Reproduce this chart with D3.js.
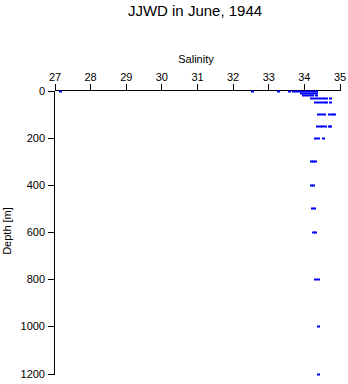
<!DOCTYPE html>
<html><head><meta charset="utf-8">
<script src="https://cdn.jsdelivr.net/npm/d3@7"></script>
<style>
body{margin:0;background:#fff;}
text{font-family:"Liberation Sans",Arial,sans-serif;fill:#000;}
</style></head>
<body><svg id="c" width="348" height="384"></svg>
<script>
const depths = [0,0,0,0,0,0,0,0,0,0,0,0,0,
  10,10,10,10,10,10,
  20,20,20,20,20,
  30,30,30,30,30,30,30,
  50,50,50,50,50,50,
  100,100,100,100,100,100,
  150,150,150,150,150,150,
  200,200,200,
  300,300,300,
  400,400,
  500,500,
  600,600,
  800,800,
  1000,
  1200];
const salinity = [27.15,32.55,33.28,33.59,33.70,33.78,33.87,33.95,34.04,34.12,34.21,34.29,34.33,
  33.92,34.01,34.09,34.18,34.26,34.35,
  33.98,34.06,34.15,34.23,34.35,
  34.21,34.29,34.37,34.46,34.54,34.63,34.74,
  34.32,34.40,34.49,34.57,34.63,34.74,
  34.40,34.49,34.57,34.71,34.80,34.85,
  34.37,34.46,34.51,34.60,34.71,34.74,
  34.32,34.40,34.54,
  34.21,34.26,34.32,
  34.21,34.26,
  34.23,34.29,
  34.26,34.32,
  34.32,34.40,
  34.40,
  34.40];
const xTicks = [27,28,29,30,31,32,33,34,35];
const yTicks = [0,200,400,600,800,1000,1200];

const svg = d3.select("#c");
const x = d3.scaleLinear().domain([27,35]).range([54.5,339.5]);
const y = d3.scaleLinear().domain([0,1200]).range([90.5,373.5]);

svg.append("text").attr("x",195).attr("y",16).attr("text-anchor","middle")
  .style("font-size","15px").text("JJWD in June, 1944");

const gx = svg.append("g")
  .call(d3.axisTop(x).tickValues(xTicks).tickFormat(d3.format("d")).tickSize(6).tickPadding(3));
const gy = svg.append("g")
  .call(d3.axisLeft(y).tickValues(yTicks).tickFormat(d3.format("d")).tickSize(6).tickPadding(3));
[gx,gy].forEach(g=>{
  g.attr("font-family",null);
  g.selectAll("text").style("font-size","11px");
  g.selectAll("path,line").attr("stroke","#000").attr("shape-rendering","crispEdges");
});
gx.attr("transform","translate(0,90)");
gy.attr("transform","translate(54,0)");

svg.append("text").attr("x",196).attr("y",63).attr("text-anchor","middle")
  .style("font-size","11px").text("Salinity");
svg.append("text").attr("transform","translate(11,231) rotate(-90)").attr("text-anchor","middle")
  .style("font-size","11px").text("Depth [m]");

svg.append("g").selectAll("rect").data(depths.map((d,i)=>({d:d,s:salinity[i]})))
  .join("rect")
  .attr("x",p=>Math.round(x(p.s))-1)
  .attr("y",p=>Math.round(y(p.d))-0.5)
  .attr("width",3).attr("height",2)
  .attr("fill","#0000ff");
</script></body></html>
